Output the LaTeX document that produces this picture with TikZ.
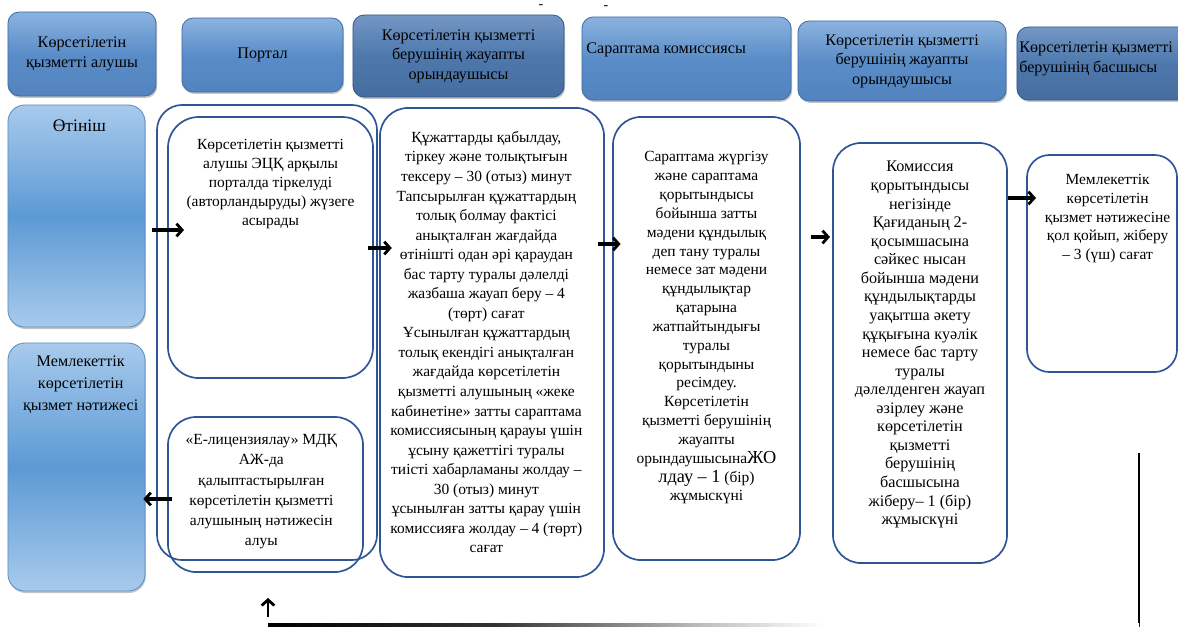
\documentclass[tikz,border=0pt]{standalone}
\usepackage{fontspec}
\setmainfont{Liberation Serif}
\usetikzlibrary{positioning,arrows.meta,shadows}
\definecolor{hdrtop}{HTML}{8CB3DF}
\definecolor{hdrmid}{HTML}{5A8DC8}
\definecolor{hdrbot}{HTML}{5283BE}
\definecolor{hdredge}{HTML}{3F6EA7}
\definecolor{dktop}{HTML}{7497C4}
\definecolor{dkmid}{HTML}{4E78AD}
\definecolor{dkbot}{HTML}{466D9F}
\definecolor{dkedge}{HTML}{36598A}
\definecolor{sidetop}{HTML}{A8CAEC}
\definecolor{sidemid}{HTML}{5C9AD4}
\definecolor{sideedge}{HTML}{5B8DC4}
\definecolor{stageedge}{HTML}{2F5597}
\pgfdeclarehorizontalshading{fadeline}{100bp}{color(0bp)=(black); color(25bp)=(black); color(38bp)=(black!80); color(50bp)=(black!25); color(57bp)=(white); color(100bp)=(white)}
\newcommand\hdrfont{\fontsize{11.5}{13.8}\selectfont}
\newcommand\bodyfont{\fontsize{11}{13.4}\selectfont}
\newcommand\bigpart{\fontsize{13}{13.4}\selectfont}
\begin{document}
\begin{tikzpicture}[x=0.025cm,y=-0.025cm,
  hdr/.style={draw=hdredge,line width=0.6pt,rounded corners=8pt,top color=hdrtop,bottom color=hdrbot,middle color=hdrmid,
    drop shadow={opacity=0.45,shadow xshift=0.8pt,shadow yshift=-1.4pt},align=center,inner sep=0pt,font=\hdrfont},
  hdrdark/.style={hdr,draw=dkedge,top color=dktop,bottom color=dkbot,middle color=dkmid},
  side/.style={draw=sideedge,line width=0.6pt,rounded corners=12pt,top color=sidetop,bottom color=sidetop,middle color=sidemid,
    drop shadow={opacity=0.45,shadow xshift=0.6pt,shadow yshift=-1.4pt},inner sep=0pt},
  stage/.style={draw=stageedge,line width=1.2pt,rounded corners=20pt,inner sep=0pt},
  txt/.style={align=center,inner sep=0pt,font=\bodyfont},
  flow/.style={line width=2.4pt,-{Straight Barb[length=4pt,width=9pt,line width=2pt]}}]
\useasboundingbox (0,0) rectangle (1178,627);
\node[inner sep=0pt] (dasha) at (541,7) {-};
\node[inner sep=0pt] (dashb) at (606,8) {-};
% header row
\node[hdr,minimum width=3.7cm,minimum height=2.1cm] (hrecv) at (82,54) {Көрсетілетін\\қызметті алушы};
\node[hdr,minimum width=4.025cm,minimum height=1.85cm] (hportal) at (262.5,55) {Портал};
\node[hdrdark,minimum width=5.275cm,minimum height=2.05cm] (hexec) at (458.5,56) {Көрсетілетін қызметті\\берушінің жауапты\\орындаушысы};
\node[hdr,minimum width=5.225cm,minimum height=2.075cm] (hexpert) at (686.5,58.5) {};
\node[hdr,minimum width=5.2cm,minimum height=2.0cm] (hexecb) at (902,61) {Көрсетілетін қызметті\\берушінің жауапты\\орындаушысы};
\node[hdrdark,minimum width=4.45cm,minimum height=1.825cm] (hhead) at (1106,63.5) {};
\node[anchor=west,font=\hdrfont,inner sep=0pt] (hexperttxt) at (586,50) {Сараптама комиссиясы};
\node[anchor=west,align=left,font=\hdrfont,inner sep=0pt] (hheadtxt) at (1019,59) {Көрсетілетін қызметті\\берушінің басшысы};
% applicant column
\node[side,minimum width=3.425cm,minimum height=5.55cm] (otinish) at (76.5,216) {};
\node[txt,font=\fontsize{12.5}{14}\selectfont,below=11pt of otinish.north,xshift=2pt] (otinishtxt) {Өтініш};
\node[side,minimum width=3.425cm,minimum height=6.2cm] (result) at (76.5,467) {};
\node[txt,font=\fontsize{11.5}{15.5}\selectfont,below=9.5pt of result.north,xshift=3pt] (resulttxt) {Мемлекеттік\\көрсетілетін\\қызмет нәтижесі};
% stage boxes
\node[stage,rounded corners=18pt,minimum width=5.5cm,minimum height=11.375cm] (portalout) at (267,332.5) {};
\node[stage,rounded corners=22pt,minimum width=5.125cm,minimum height=6.525cm] (portalin) at (270.5,247.5) {};
\node[txt,below=16.5pt of portalin.north] (portalintxt) {Көрсетілетін қызметті\\алушы ЭЦҚ арқылы\\порталда тіркелуді\\(авторландыруды) жүзеге\\асырады};
\node[stage,minimum width=4.875cm,minimum height=3.875cm] (portallow) at (265.5,494.5) {};
\node[txt,font=\fontsize{11}{14.3}\selectfont,below=13pt of portallow.north,xshift=-3pt] (portallowtxt) {«Е-лицензиялау» МДҚ\\АЖ-да\\қалыптастырылған\\көрсетілетін қызметті\\алушының нәтижесін\\алуы};
\node[stage,minimum width=5.6cm,minimum height=11.725cm] (docs) at (492,342.5) {};
\node[txt,font=\fontsize{11}{13.9}\selectfont,below=17pt of docs.north,xshift=-4pt] (docstxt) {Құжаттарды қабылдау,\\тіркеу және толықтығын\\тексеру – 30 (отыз) минут\\Тапсырылған құжаттардың\\толық болмау фактісі\\анықталған жағдайда\\өтінішті одан әрі қараудан\\бас тарту туралы дәлелді\\жазбаша жауап беру – 4\\(төрт) сағат\\Ұсынылған құжаттардың\\толық екендігі анықталған\\жағдайда көрсетілетін\\қызметті алушының «жеке\\кабинетіне» затты сараптама\\комиссиясының қарауы үшін\\ұсыну қажеттігі туралы\\тиісті хабарламаны жолдау –\\30 (отыз) минут\\ұсынылған затты қарау үшін\\комиссияға жолдау – 4 (төрт)\\сағат};
\node[stage,minimum width=4.675cm,minimum height=11.075cm] (expert) at (706.5,338.5) {};
\node[txt,below=25pt of expert.north] (experttxt) {Сараптама жүргізу\\және сараптама\\қорытындысы\\бойынша затты\\мәдени құндылық\\деп тану туралы\\немесе зат мәдени\\құндылықтар\\қатарына\\жатпайтындығы\\туралы\\қорытындыны\\ресімдеу.\\Көрсетілетін\\қызметті берушінің\\жауапты\\орындаушысына{\bigpart ЖО}\\{\bigpart лдау – 1} (бір)\\жұмыскүні};
\node[stage,minimum width=4.35cm,minimum height=10.5cm] (comm) at (920,353) {};
\node[txt,font=\fontsize{11.5}{13.2}\selectfont,below=13.5pt of comm.north] (commtxt) {Комиссия\\қорытындысы\\негізінде\\Қағиданың 2-\\қосымшасына\\сәйкес нысан\\бойынша мәдени\\құндылықтарды\\уақытша әкету\\құқығына куәлік\\немесе бас тарту\\туралы\\дәлелденген жауап\\әзірлеу және\\көрсетілетін\\қызметті\\берушінің\\басшысына\\жіберу– 1 (бір)\\жұмыскүні};
\node[stage,rounded corners=16pt,minimum width=3.75cm,minimum height=5.425cm] (sign) at (1102,263.5) {};
\node[txt,below=14pt of sign.north,xshift=4pt] (signtxt) {Мемлекеттік\\көрсетілетін\\қызмет нәтижесіне\\қол қойып, жіберу\\– 3 (үш) сағат};
% connectors
\draw[flow,shorten <=5pt,shorten >=-12pt] (otinish.east |- 0,230) -- (portalin.west |- 0,230);
\draw[flow,shorten <=-4pt,shorten >=-9pt] (portalin.east |- 0,248) -- (docs.west |- 0,248);
\draw[flow,shorten <=-5pt,shorten >=-6pt] (docs.east |- 0,244) -- (expert.west |- 0,244);
\draw[flow,shorten <=7pt,shorten >=1.5pt] (expert.east |- 0,237) -- (comm.west |- 0,237);
\draw[flow,shorten >=-7pt] (comm.east |- 0,198) -- (sign.west |- 0,198);
\draw[flow,shorten <=-3.5pt,shorten >=-1.5pt] (portallow.west |- 0,499) -- (result.east |- 0,499);
\coordinate (retbase) at (268,617);
\coordinate (retcorner) at (1139,625);
\coordinate (rettop) at (1139,453);
\draw[flow,line width=1.8pt] (retbase) -- (retbase |- 0,598);
\draw[line width=1.2pt] (rettop) -- (retcorner |- 0,627);
\shade[shading=fadeline] (retbase |- 0,623.8) rectangle (retcorner |- 0,626.4);
\end{tikzpicture}
\end{document}
